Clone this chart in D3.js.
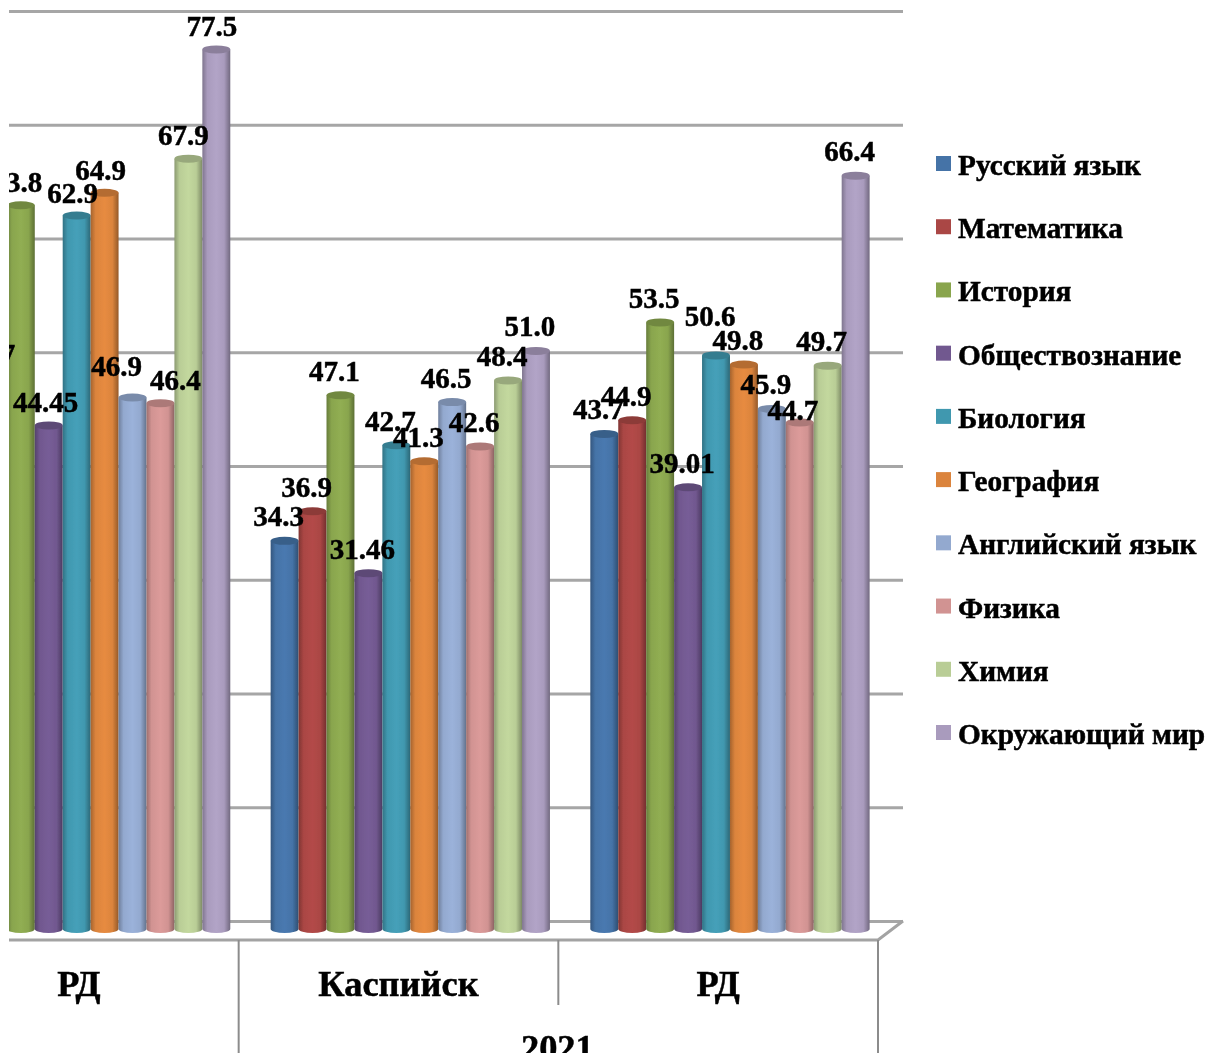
<!DOCTYPE html>
<html>
<head>
<meta charset="utf-8">
<script src="https://cdn.jsdelivr.net/npm/d3@7"></script>
<style>
  html, body { margin: 0; padding: 0; background: #fff; }
  svg { display: block; }
  text { font-family: "Liberation Serif", serif; font-weight: bold; fill: #000; stroke: #000; stroke-width: 0.5px; }
</style>
</head>
<body>
<div id="root"></div>
<script>
const subjects = ['Русский язык', 'Математика', 'История', 'Обществознание', 'Биология',
                  'География', 'Английский язык', 'Физика', 'Химия', 'Окружающий мир'];
const groups = ['РД (2020)', 'Каспийск', 'РД'];
const groupLabels = ['РД', 'Каспийск', 'РД'];
const yearLabel = '2021';

// same order as subjects; the first bar of the left group is cropped out of the picture
const valuesRdLeft = [null, 48.7, 63.8, 44.45, 62.9, 64.9, 46.9, 46.4, 67.9, 77.5];
const valuesKaspiysk = [34.3, 36.9, 47.1, 31.46, 42.7, 41.3, 46.5, 42.6, 48.4, 51.0];
const valuesRdRight = [43.7, 44.9, 53.5, 39.01, 50.6, 49.8, 45.9, 44.7, 49.7, 66.4];
const gridTicks = [0, 10, 20, 30, 40, 50, 60, 70, 80];

const colors = ['#4573a7', '#aa4644', '#89a54e', '#71588f', '#4198af',
                '#db843d', '#93a9cf', '#d19392', '#b9cd96', '#a99bbd'];

const w = 1210;
const h = 1057;
const lift = 10;       // bars stand in front of the back wall
const ry = 4;

// hand placed labels, same as in the source chart: "group-subject": [dx, dy]
const labelNudge = {
  '0-1': [3, 1], '0-2': [2, 1.5], '0-3': [3, 1.5], '0-4': [2, 2], '0-5': [2, 1.5],
  '0-6': [-10, -7.5], '0-7': [21, 1.5], '0-8': [1, 1], '0-9': [1.5, 1],
  '2-4': [0, -14.5], '2-7': [-1, 11.5]
};

const svg = d3.select('#root').append('svg')
  .attr('width', w)
  .attr('height', h);

const defs = svg.append('defs');
defs.append('clipPath').attr('id', 'crop')
  .append('rect').attr('x', 9).attr('y', 0).attr('width', w - 9).attr('height', 1053);
defs.append('filter').attr('id', 'soft')
  .attr('x', 0).attr('y', 0).attr('width', 1).attr('height', 1)
  .append('feGaussianBlur').attr('stdDeviation', 0.5);

colors.forEach((c, i) => {
  const g = defs.append('linearGradient').attr('id', 'bar' + i);
  const stops = [
    [0, d3.color(c).darker(0.8)],
    [0.18, d3.color(c)],
    [0.5, d3.color(c).brighter(0.15)],
    [0.78, d3.color(c)],
    [1, d3.color(c).darker(1.1)]
  ];
  stops.forEach(s => g.append('stop').attr('offset', s[0]).attr('stop-color', s[1]));
});

const root = svg.append('g').attr('clip-path', 'url(#crop)')
  .append('g').attr('filter', 'url(#soft)');

root.append('rect').attr('x', 0).attr('y', 0).attr('width', w).attr('height', h).attr('fill', '#fff');

const y = d3.scaleLinear().domain([0, 80]).range([921, 11]);
const x0 = d3.scaleBand().domain(groups).range([-81, 878]);
const x1 = d3.scaleBand().domain(subjects).range([0, 279.3]);

// grid lines on the back wall
const grid = root.append('g')
  .attr('transform', 'translate(9,0)')
  .call(d3.axisRight(y).tickValues(gridTicks).tickSize(894).tickFormat(''));
grid.select('.domain').remove();
grid.selectAll('line').attr('stroke', '#a6a6a6').attr('stroke-width', 3);

// floor and category dividers
const frontY = y(0) + 19;
const lines = root.append('g').attr('fill', 'none').attr('stroke', '#a3a3a3');
lines.append('path')
  .attr('d', d3.line()([[9, frontY], [x0.range()[1], frontY], [903, y(0)]]))
  .attr('stroke-width', 3);
const dividers = [[x0('Каспийск'), 1053], [x0('РД'), 1005], [x0.range()[1], 1053]];
lines.selectAll('.divider')
  .data(dividers)
  .enter()
  .append('line')
  .attr('class', 'divider')
  .attr('x1', d => d[0])
  .attr('x2', d => d[0])
  .attr('y1', frontY)
  .attr('y2', d => d[1])
  .attr('stroke', '#8c8c8c')
  .attr('stroke-width', 2);

const rows = [];
[valuesRdLeft, valuesKaspiysk, valuesRdRight].forEach((vals, g) => {
  vals.forEach((v, i) => {
    if (v !== null) rows.push({ g, i, v });
  });
});

const groupPad = (x0.bandwidth() - 279.3) / 2 + 11.8;
const barX = d => x0(groups[d.g]) + groupPad + x1(subjects[d.i]);
const barTop = d => y(d.v) + lift;
const bw = x1.bandwidth();
const barBase = y(0) + lift - 2;

const bars = root.selectAll('.bar')
  .data(rows)
  .enter()
  .append('g')
  .attr('class', 'bar');

bars.append('path')
  .attr('fill', d => 'url(#bar' + d.i + ')')
  .attr('d', d => {
    const l = barX(d);
    const r = l + bw;
    return `M${l},${barTop(d)}L${l},${barBase}A${bw / 2},${ry} 0 0 0 ${r},${barBase}L${r},${barTop(d)}Z`;
  });

bars.append('ellipse')
  .attr('cx', d => barX(d) + bw / 2)
  .attr('cy', barTop)
  .attr('rx', bw / 2)
  .attr('ry', ry)
  .attr('fill', d => d3.color(colors[d.i]).darker(0.55));

const fmt = v => (Math.round(v * 100) % 10 !== 0 ? d3.format('.2f')(v) : d3.format('.1f')(v));

root.selectAll('.value')
  .data(rows)
  .enter()
  .append('text')
  .attr('class', 'value')
  .attr('text-anchor', 'middle')
  .attr('font-size', 29)
  .attr('x', d => barX(d) + bw / 2 - 6 + (labelNudge[d.g + '-' + d.i] || [0, 0])[0])
  .attr('y', d => barTop(d) - 14.5 + (labelNudge[d.g + '-' + d.i] || [0, 0])[1])
  .text(d => fmt(d.v));

root.selectAll('.cat')
  .data(groups)
  .enter()
  .append('text')
  .attr('class', 'cat')
  .attr('text-anchor', 'middle')
  .attr('font-size', 36.4)
  .attr('x', d => x0(d) + x0.bandwidth() / 2)
  .attr('y', 996)
  .text((d, i) => groupLabels[i]);

root.append('text')
  .attr('text-anchor', 'middle')
  .attr('font-size', 36.4)
  .attr('x', x0('РД') - 1)
  .attr('y', 1060)
  .text(yearLabel);

// legend
const legendY = d3.scalePoint().domain(subjects).range([163.5, 732.5]);
const legend = root.selectAll('.legend')
  .data(subjects)
  .enter()
  .append('g')
  .attr('class', 'legend')
  .attr('transform', d => `translate(936,${legendY(d)})`);

legend.append('rect')
  .attr('y', -7.5)
  .attr('width', 15)
  .attr('height', 15)
  .attr('fill', (d, i) => colors[i]);

legend.append('text')
  .attr('x', 22)
  .attr('y', 11.5)
  .attr('font-size', 29.3)
  .text(d => d);
</script>
</body>
</html>
